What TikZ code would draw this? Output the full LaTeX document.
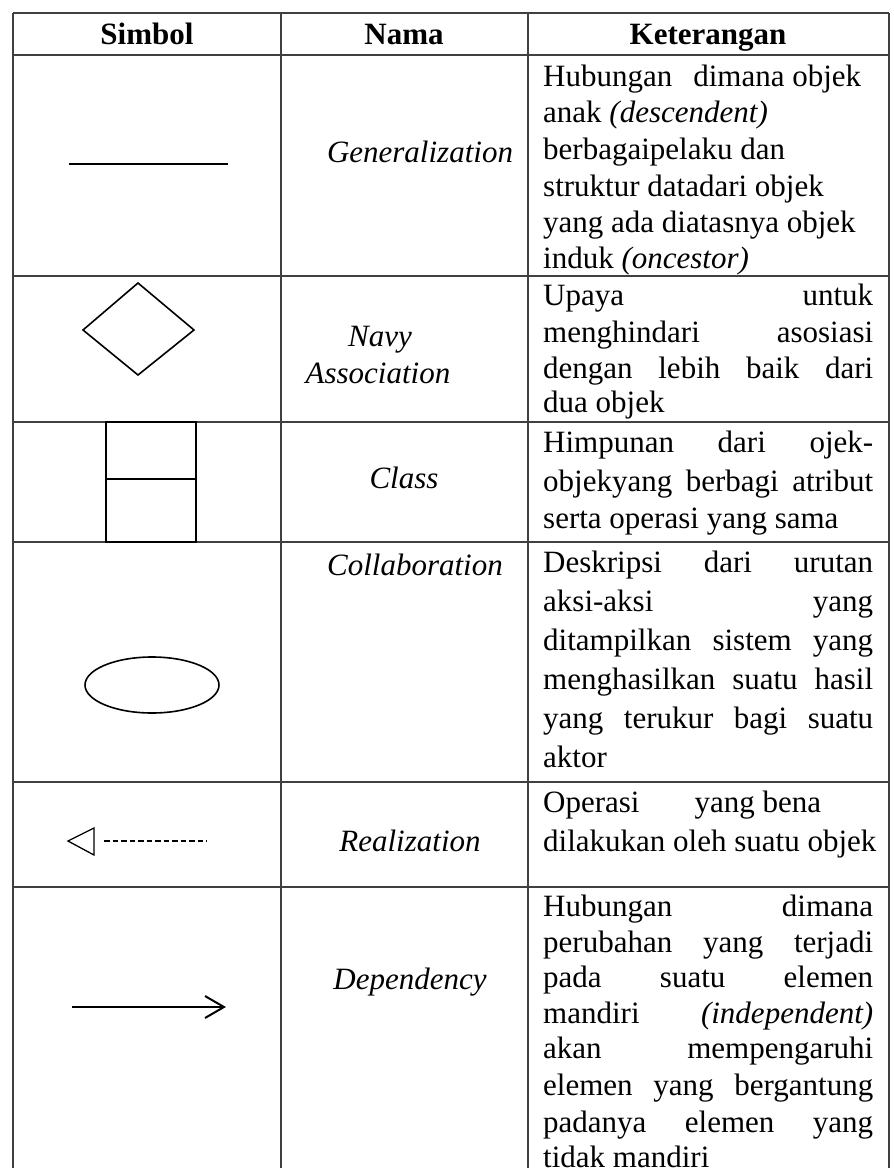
\documentclass[tikz,border=0pt]{standalone}
\usepackage{fontspec}
\setmainfont{Liberation Serif}
\newcommand\justline[1]{\makebox[330pt][s]{#1}}
\tikzset{
  gridline/.style={draw=black!75, line width=1.4pt},
  txt/.style={inner sep=0pt, anchor=base west, font=\fontsize{31pt}{37pt}\selectfont},
  namelbl/.style={inner sep=0pt, anchor=base, font=\fontsize{31pt}{37pt}\selectfont\itshape},
  headlbl/.style={inner sep=0pt, anchor=base, font=\fontsize{31pt}{37pt}\selectfont\bfseries},
  sym/.style={draw=black, line width=1.6pt},
}
\begin{document}
\begin{tikzpicture}[x=1pt,y=-1pt]
\useasboundingbox (0,0) rectangle (894,1168);
% grid
\foreach \yy in {13,55,276,422,542,782,887}
  \draw[gridline] (13,\yy) -- (889,\yy);
\foreach \xx in {13,281,528,889}
  \draw[gridline] (\xx,13) -- (\xx,1185);
% header
\node[headlbl] (h1) at (147,44) {Simbol};
\node[headlbl] (h2) at (404,44) {Nama};
\node[headlbl] (h3) at (708,44) {Keterangan};
% Generalization
\coordinate (gA) at (69,164);
\coordinate (gB) at (228,164);
\draw[sym] (gA) -- (gB);
\node[namelbl] (n1) at (420,162) {Generalization};
\node[txt] (g1) at (543,86) {Hubungan\hspace{21pt}dimana objek};
\node[txt] (g2) at (543,122) {anak \textit{(descendent)}};
\node[txt] (g3) at (543,159) {berbagaipelaku dan};
\node[txt] (g4) at (543,196) {struktur datadari objek};
\node[txt] (g5) at (543,232) {yang ada diatasnya objek};
\node[txt] (g6) at (543,268) {induk \textit{(oncestor)}};
% Navy Association
\draw[sym] (138,283) -- (194,330) -- (138,375) -- (83,330) -- cycle;
\node[namelbl] (n2a) at (380,346) {Navy};
\node[namelbl] (n2b) at (378,383) {Association};
\node[txt] (a1) at (543,305) {\justline{Upaya untuk}};
\node[txt] (a2) at (543,342) {\justline{menghindari asosiasi}};
\node[txt] (a3) at (543,378) {\justline{dengan lebih baik dari}};
\node[txt] (a4) at (543,412) {dua objek};
% Class
\draw[sym] (106,422) rectangle (196,542);
\draw[sym] (106,479) -- (196,479);
\node[namelbl] (n3) at (404,488) {Class};
\node[txt] (c1) at (543,452) {\justline{Himpunan dari ojek-}};
\node[txt] (c2) at (543,491) {\justline{objekyang berbagi atribut}};
\node[txt] (c3) at (543,528) {serta operasi yang sama};
% Collaboration
\draw[sym] (152,685) ellipse [x radius=67, y radius=28];
\node[namelbl] (n4) at (415,575) {Collaboration};
\node[txt] (k1) at (543,572) {\justline{Deskripsi dari urutan}};
\node[txt] (k2) at (543,611) {\justline{aksi-aksi yang}};
\node[txt] (k3) at (543,650) {\justline{ditampilkan sistem yang}};
\node[txt] (k4) at (543,689) {\justline{menghasilkan suatu hasil}};
\node[txt] (k5) at (543,728) {\justline{yang terukur bagi suatu}};
\node[txt] (k6) at (543,767) {aktor};
% Realization
\draw[sym, line width=1.3pt] (68,841) -- (94,828) -- (94,855) -- cycle;
\coordinate (rA) at (104,841);
\coordinate (rB) at (207,841);
\draw[line width=1.2pt, dash pattern=on 5.5pt off 3pt] (rA) -- (rB);
\node[namelbl] (n5) at (410,851) {Realization};
\node[txt] (r1) at (543,812) {Operasi\hspace{55pt}yang bena};
\node[txt] (r2) at (543,851) {dilakukan oleh suatu objek};
% Dependency
\coordinate (dA) at (72,1007);
\coordinate (dB) at (224,1007);
\draw[sym, line width=2pt] (dA) -- (dB);
\draw[sym, line width=2pt] (205,996) -- (dB) -- (205,1018);
\node[namelbl] (n6) at (410,989) {Dependency};
\node[txt] (d1) at (543,916) {\justline{Hubungan dimana}};
\node[txt] (d2) at (543,952) {\justline{perubahan yang terjadi}};
\node[txt] (d3) at (543,987) {\justline{pada suatu elemen}};
\node[txt] (d4) at (543,1023) {\justline{mandiri \textit{(independent)}}};
\node[txt] (d5) at (543,1058) {\justline{akan mempengaruhi}};
\node[txt] (d6) at (543,1095) {\justline{elemen yang bergantung}};
\node[txt] (d7) at (543,1132) {\justline{padanya elemen yang}};
\node[txt] (d8) at (543,1167) {tidak mandiri};
\end{tikzpicture}
\end{document}
